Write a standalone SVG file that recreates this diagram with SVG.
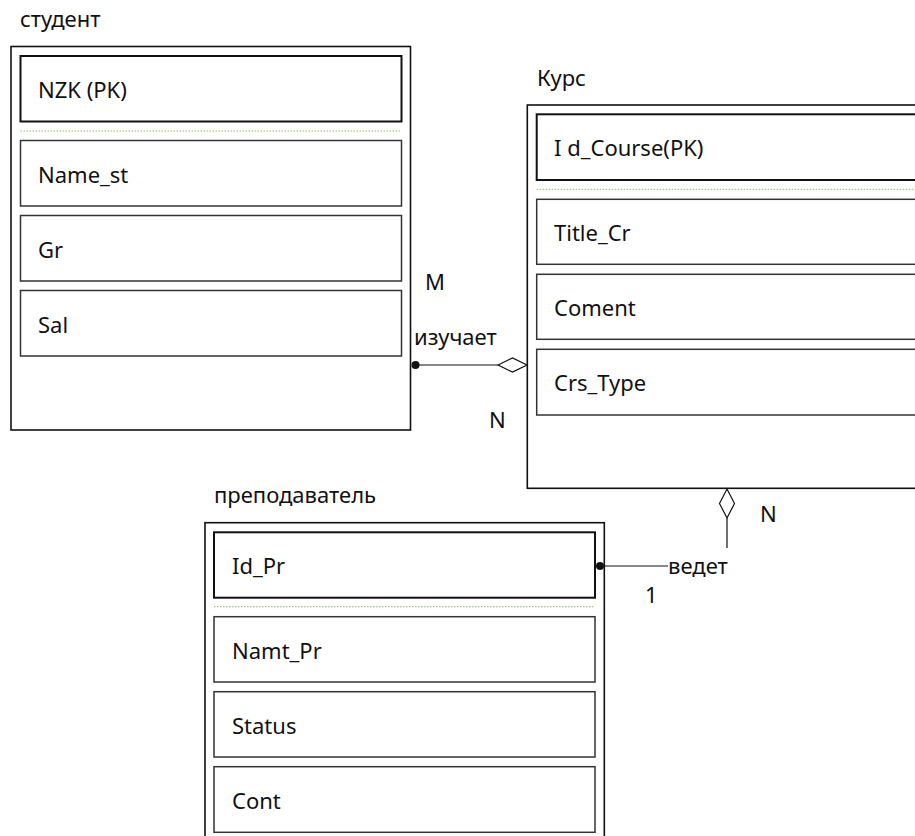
<svg xmlns="http://www.w3.org/2000/svg" width="915" height="836" viewBox="0 0 915 836">
<style>
text{font-family:"Noto Sans","Liberation Sans",sans-serif;font-size:22px;fill:#111}
.outer{fill:#fff;stroke:#111;stroke-width:1.6}
.pk{fill:#fff;stroke:#111;stroke-width:2}
.fld{fill:#fff;stroke:#333;stroke-width:1.5}
.sep{stroke:#8cc060;stroke-width:1;stroke-dasharray:1.5 1.5}
.ln{stroke:#111;stroke-width:1.2;fill:none}
.dia{fill:#fff;stroke:#111;stroke-width:1.2}
</style>
<rect width="915" height="836" fill="#fff"/>
<g id="student">
<text x="20" y="27">студент</text>
<rect class="outer" x="11" y="46.5" width="399.5" height="383.5"/>
<rect class="pk" x="20.5" y="56" width="381" height="65.5"/>
<text x="38" y="98">NZK (PK)</text>
<line class="sep" x1="20.5" y1="131" x2="401.5" y2="131"/>
<rect class="fld" x="20.5" y="140.5" width="381" height="65.5"/>
<text x="38" y="182.5">Name_st</text>
<rect class="fld" x="20.5" y="215.5" width="381" height="65.5"/>
<text x="38" y="257.5">Gr</text>
<rect class="fld" x="20.5" y="290.5" width="381" height="65.5"/>
<text x="38" y="332.5">Sal</text>
</g>
<g id="course">
<text x="537" y="86">Курс</text>
<rect class="outer" x="527.3" y="105" width="420" height="383.3"/>
<rect class="pk" x="536.7" y="114.3" width="400" height="65.7"/>
<text x="554" y="156.3">I d_Course(PK)</text>
<line class="sep" x1="536.7" y1="189.3" x2="915" y2="189.3"/>
<rect class="fld" x="536.7" y="199.3" width="400" height="65"/>
<text x="554" y="241.3">Title_Cr</text>
<rect class="fld" x="536.7" y="274.3" width="400" height="65"/>
<text x="554" y="316.3">Coment</text>
<rect class="fld" x="536.7" y="349.3" width="400" height="65.7"/>
<text x="554" y="391.3">Crs_Type</text>
</g>
<g id="teacher">
<text x="214" y="503">преподаватель</text>
<rect class="outer" x="205" y="522.7" width="399.3" height="330"/>
<rect class="pk" x="214" y="532.3" width="381" height="65.4"/>
<text x="232" y="574.3">Id_Pr</text>
<line class="sep" x1="214" y1="606.7" x2="595" y2="606.7"/>
<rect class="fld" x="214" y="616.7" width="381" height="65.3"/>
<text x="232" y="658.7">Namt_Pr</text>
<rect class="fld" x="214" y="691.7" width="381" height="65.3"/>
<text x="232" y="733.7">Status</text>
<rect class="fld" x="214" y="766.7" width="381" height="65.6"/>
<text x="232" y="808.7">Cont</text>
</g>
<g id="connectors">
<line class="ln" x1="415.5" y1="365" x2="498" y2="365"/>
<circle cx="415.5" cy="365" r="4" fill="#111"/>
<polygon class="dia" points="498,365 512.5,358 527,365 512.5,372"/>
<line class="ln" x1="600" y1="566" x2="668" y2="566"/>
<circle cx="600" cy="566" r="4" fill="#111"/>
<line class="ln" x1="727" y1="548" x2="727" y2="518"/>
<polygon class="dia" points="727,518 719.5,503.5 727,489 734.5,503.5"/>
</g>
<g id="labels">
<text x="425" y="290">M</text>
<text x="414" y="345">изучает</text>
<text x="489" y="428">N</text>
<text x="668" y="574">ведет</text>
<text x="645" y="603">1</text>
<text x="760" y="522">N</text>
</g>
</svg>
